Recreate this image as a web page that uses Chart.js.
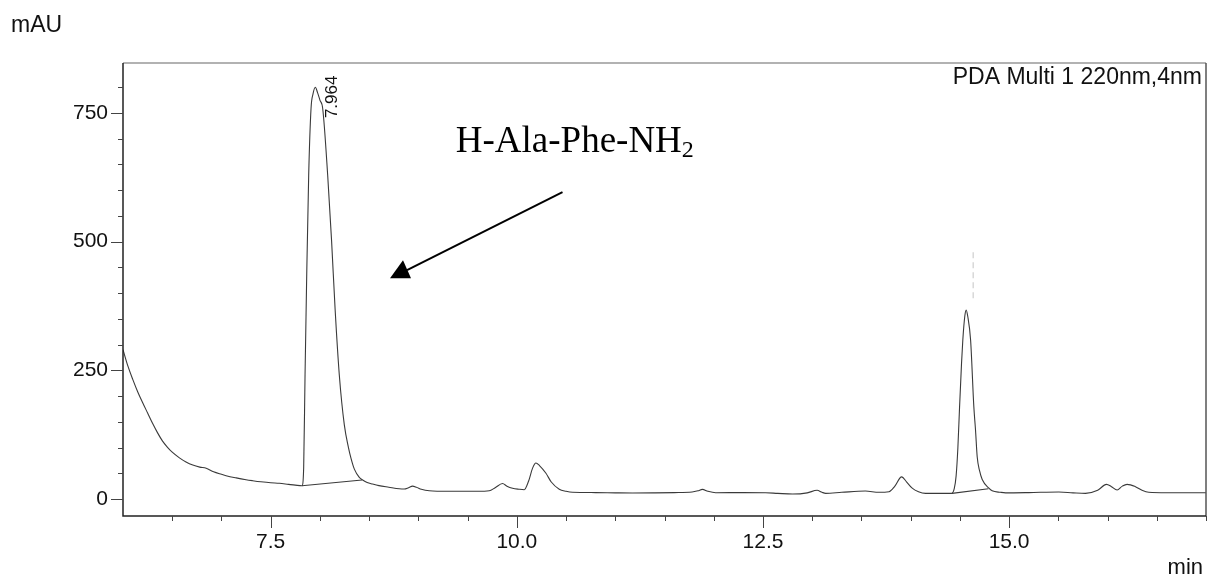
<!DOCTYPE html>
<html>
<head>
<meta charset="utf-8">
<script src="https://cdn.jsdelivr.net/npm/chart.js@4.4.1/dist/chart.umd.min.js"></script>
<style>
  body { margin: 0; background: #fff; }
  canvas { display: block; }
</style>
</head>
<body>
<canvas id="chrom" width="1216" height="581"></canvas>
<script>
// retention time (min) and absorbance (mAU)
const times = [6.00, 6.05, 6.10, 6.15, 6.20, 6.25, 6.30, 6.35, 6.40, 6.45, 6.50, 6.573, 6.64, 6.709, 6.78, 6.845,
  6.92, 7.00, 7.047, 7.15, 7.25, 7.317, 7.40, 7.50, 7.588, 7.68, 7.75, 7.818, 7.835, 7.849, 7.866, 7.886, 7.910, 7.93,
  7.954, 7.975, 8.00, 8.028, 8.079, 8.119, 8.154, 8.197, 8.248, 8.29, 8.316, 8.35, 8.40, 8.434, 8.48, 8.535, 8.60,
  8.70, 8.806, 8.857, 8.90, 8.941, 8.98, 9.03, 9.111, 9.30, 9.483, 9.60, 9.72, 9.78, 9.855, 9.90, 9.957, 10.02, 10.075,
  10.12, 10.16, 10.194, 10.23, 10.296, 10.35, 10.431, 10.50, 10.566, 10.80, 11.00, 11.175, 11.40, 11.60, 11.78, 11.84,
  11.885, 11.94, 12.02, 12.30, 12.527, 12.65, 12.80, 12.95, 13.05, 13.10, 13.137, 13.30, 13.54, 13.678, 13.78, 13.84,
  13.908, 13.96, 14.016, 14.08, 14.152, 14.30, 14.416, 14.443, 14.462, 14.48, 14.497, 14.517, 14.530, 14.55, 14.564,
  14.58, 14.609, 14.642, 14.659, 14.676, 14.70, 14.727, 14.795, 14.828, 14.913, 14.964, 15.20, 15.505, 15.65, 15.776,
  15.90, 15.989, 16.04, 16.097, 16.15, 16.198, 16.283, 16.35, 16.418, 16.60, 16.80, 17.00];
const signal = [290, 258, 232, 208, 187, 167, 147, 129, 113, 101, 91, 80, 72, 66, 62, 59.6,
  53, 48, 45.3, 41, 37.5, 35.6, 33.5, 31.5, 30.5, 28.5, 27, 25.8, 60, 241, 435, 629, 759, 787,
  800, 790, 775, 759, 629, 500, 370, 241, 144, 100, 79, 58, 42, 37, 32, 29, 26,
  23, 20, 19.5, 22, 25, 23, 19, 16, 15, 15, 15, 16, 22, 30, 25, 21, 19, 18,
  35, 60, 70, 65, 50, 33, 19, 15, 13, 12.5, 12, 11.7, 12, 12.5, 13.6, 16,
  18.8, 15, 12.2, 12.5, 12.2, 11, 9.7, 12, 17, 13, 11, 13, 15.5, 13, 14, 25,
  43, 33, 21, 14, 11, 11, 11, 20, 45, 100, 179, 264, 309, 355, 367,
  355, 309, 179, 134, 82, 55, 38, 21, 16, 13, 12, 12.5, 13.6, 12, 11,
  17, 28.5, 24, 17.5, 25, 28.5, 24, 17, 13, 12.2, 12.2, 12.2];

// integration baselines under the two main peaks
const base1Times = [7.818, 8.428];
const base1Signal = [25.8, 37];
const base2Times = [14.42, 14.79];
const base2Signal = [11, 20];

// faint marker above the second peak
const markTimes = [14.635, 14.635];
const markSignal = [390, 484];

const xTicks = [7.5, 10.0, 12.5, 15.0];
const yTicks = [0, 250, 500, 750];

const peakLabel = { t: 7.964, v: 740, text: '7.964' };
const compound = { t: 9.38, v: 675 };
const arrowFrom = { t: 10.464, v: 596 };
const arrowTo = { t: 8.712, v: 429 };

function pts(xs, ys) {
  return xs.map((x, i) => ({ x: x, y: ys[i] }));
}

const sans = '"Liberation Sans", Arial, sans-serif';

const decor = {
  id: 'decor',
  afterDraw(chart) {
    const ctx = chart.ctx;
    const a = chart.chartArea;
    const xs = chart.scales.x, ys = chart.scales.y;
    ctx.save();

    // frame
    ctx.lineWidth = 1.5;
    ctx.strokeStyle = '#999';
    ctx.beginPath();
    ctx.moveTo(a.left, a.top); ctx.lineTo(a.right, a.top);
    ctx.stroke();
    ctx.strokeStyle = '#555';
    ctx.beginPath();
    ctx.moveTo(a.right, a.top); ctx.lineTo(a.right, a.bottom);
    ctx.stroke();
    ctx.strokeStyle = '#222';
    ctx.beginPath();
    ctx.moveTo(a.left, a.top); ctx.lineTo(a.left, a.bottom); ctx.lineTo(a.right, a.bottom);
    ctx.stroke();

    // tick marks
    ctx.lineWidth = 1;
    ctx.strokeStyle = '#444';
    ctx.beginPath();
    for (let v = 0; v <= ys.max; v += 50) {
      const y = Math.round(ys.getPixelForValue(v)) + 0.5;
      const len = v % 250 === 0 ? 12 : 5;
      ctx.moveTo(a.left - len, y); ctx.lineTo(a.left, y);
    }
    for (let t = 6.5; t <= xs.max; t += 0.5) {
      const x = Math.round(xs.getPixelForValue(t)) + 0.5;
      const len = Math.abs(t / 2.5 - Math.round(t / 2.5)) < 1e-6 ? 12 : 5;
      ctx.moveTo(x, a.bottom); ctx.lineTo(x, a.bottom + len);
    }
    ctx.stroke();

    // axis units
    ctx.fillStyle = '#111';
    ctx.font = '23px ' + sans;
    ctx.textAlign = 'left';
    ctx.textBaseline = 'alphabetic';
    ctx.fillText('mAU', 11, 32);
    ctx.font = '22px ' + sans;
    ctx.textAlign = 'right';
    ctx.fillText('min', a.right - 3, 574);

    // detector label
    ctx.font = '23px ' + sans;
    ctx.fillText('PDA Multi 1 220nm,4nm', a.right - 4, 84);

    // retention time of the main peak
    ctx.save();
    ctx.translate(xs.getPixelForValue(peakLabel.t) + 21, ys.getPixelForValue(peakLabel.v));
    ctx.rotate(-Math.PI / 2);
    ctx.font = '17px ' + sans;
    ctx.textAlign = 'left';
    ctx.fillText(peakLabel.text, 0, 0);
    ctx.restore();

    // compound name
    const cx = xs.getPixelForValue(compound.t), cy = ys.getPixelForValue(compound.v);
    ctx.font = '37px "Liberation Serif", "Times New Roman", serif';
    ctx.textAlign = 'left';
    ctx.fillStyle = '#000';
    const main = 'H-Ala-Phe-NH';
    ctx.fillText(main, cx, cy);
    const w = ctx.measureText(main).width;
    ctx.font = '24px "Liberation Serif", "Times New Roman", serif';
    ctx.fillText('2', cx + w, cy + 5);

    // arrow
    const x0 = xs.getPixelForValue(arrowFrom.t), y0 = ys.getPixelForValue(arrowFrom.v);
    const x1 = xs.getPixelForValue(arrowTo.t), y1 = ys.getPixelForValue(arrowTo.v);
    ctx.strokeStyle = '#000';
    ctx.lineWidth = 2;
    ctx.beginPath();
    ctx.moveTo(x0, y0); ctx.lineTo(x1 + 17, y1 - 8);
    ctx.stroke();
    ctx.beginPath();
    ctx.moveTo(x1, y1);
    ctx.lineTo(x1 + 21, y1);
    ctx.lineTo(x1 + 13, y1 - 18);
    ctx.closePath();
    ctx.fill();

    ctx.restore();
  }
};

new Chart(document.getElementById('chrom'), {
  type: 'line',
  data: {
    datasets: [
      {
        data: pts(times, signal),
        borderColor: '#3a3a3a',
        borderWidth: 1.1,
        pointRadius: 0,
        cubicInterpolationMode: 'monotone'
      },
      {
        data: pts(base1Times, base1Signal),
        borderColor: '#3a3a3a',
        borderWidth: 1.1,
        pointRadius: 0
      },
      {
        data: pts(base2Times, base2Signal),
        borderColor: '#3a3a3a',
        borderWidth: 1.1,
        pointRadius: 0
      },
      {
        data: pts(markTimes, markSignal),
        borderColor: '#c4c4c4',
        borderWidth: 1,
        borderDash: [6, 4],
        pointRadius: 0
      }
    ]
  },
  options: {
    responsive: false,
    animation: false,
    events: [],
    layout: { padding: { top: 63, right: 10, left: 0, bottom: 0 } },
    plugins: { legend: { display: false }, tooltip: { enabled: false } },
    scales: {
      x: {
        type: 'linear',
        min: 6,
        max: 17,
        afterFit: s => { s.height = 65; },
        afterBuildTicks: s => { s.ticks = xTicks.map(v => ({ value: v })); },
        grid: { display: false, drawTicks: false },
        border: { display: false },
        ticks: {
          padding: 14,
          maxRotation: 0,
          autoSkip: false,
          color: '#111',
          font: { family: sans, size: 21 },
          callback: v => v.toFixed(1)
        }
      },
      y: {
        min: -33,
        max: 847,
        afterFit: s => { s.width = 123; },
        afterBuildTicks: s => { s.ticks = yTicks.map(v => ({ value: v })); },
        grid: { display: false, drawTicks: false },
        border: { display: false },
        ticks: {
          padding: 15,
          color: '#111',
          font: { family: sans, size: 21 },
          callback: v => String(v)
        }
      }
    }
  },
  plugins: [decor]
});
</script>
</body>
</html>
